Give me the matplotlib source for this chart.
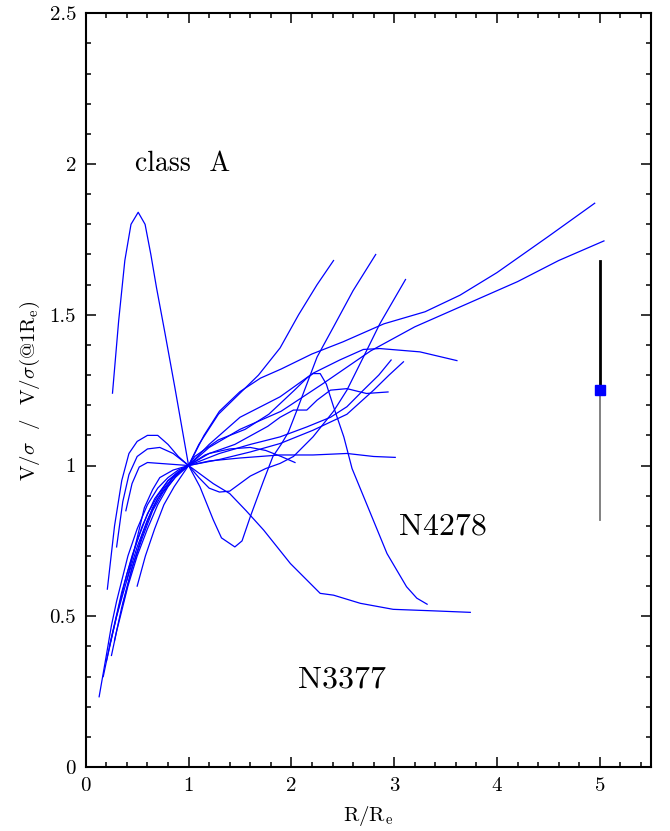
import numpy as np
import matplotlib
matplotlib.use("Agg")
import matplotlib.pyplot as plt
from matplotlib.ticker import MultipleLocator, FuncFormatter

# profiles V/sigma normalised at 1 Re
r_01 = np.array([0.26, 0.32, 0.38, 0.44, 0.51, 0.577, 0.633, 0.688, 0.77, 0.866, 1.0, 1.11, 1.24, 1.32, 1.45,
                 1.52, 1.6, 1.73, 1.82, 1.9, 1.97, 2.05, 2.15, 2.25, 2.41, 2.6, 2.82])
v_01 = np.array([1.24, 1.48, 1.68, 1.80, 1.84, 1.80, 1.70, 1.59, 1.44, 1.26, 1.0, 0.93, 0.82, 0.76, 0.73,
                 0.75, 0.83, 0.95, 1.03, 1.07, 1.11, 1.18, 1.27, 1.36, 1.46, 1.58, 1.70])

r_02 = np.array([0.21, 0.28, 0.35, 0.42, 0.5, 0.6, 0.7, 0.8, 0.9, 1.0, 1.15, 1.3, 1.5, 1.7, 1.9, 2.2, 2.5,
                 2.9, 3.3, 3.64, 4.0, 4.5, 4.95])
v_02 = np.array([0.59, 0.80, 0.95, 1.04, 1.08, 1.10, 1.10, 1.07, 1.03, 1.0, 1.10, 1.18, 1.245, 1.29, 1.32,
                 1.37, 1.41, 1.47, 1.51, 1.565, 1.64, 1.76, 1.87])

r_03 = np.array([0.30, 0.36, 0.42, 0.5, 0.6, 0.72, 0.85, 1.0, 1.2, 1.5, 1.9, 2.3, 2.77, 3.2, 3.64, 4.2, 4.6, 5.04])
v_03 = np.array([0.73, 0.88, 0.97, 1.03, 1.055, 1.06, 1.04, 1.0, 1.06, 1.12, 1.18, 1.27, 1.38, 1.46, 1.526,
                 1.61, 1.68, 1.745])

r_04 = np.array([0.39, 0.45, 0.52, 0.6, 0.8, 1.0, 1.2, 1.5, 1.89, 2.21, 2.54, 2.8, 3.01])
v_04 = np.array([0.85, 0.94, 0.995, 1.01, 1.005, 1.0, 1.015, 1.025, 1.035, 1.035, 1.04, 1.03, 1.027])

r_05 = np.array([0.13, 0.2, 0.25, 0.3, 0.41, 0.5, 0.6, 0.7, 0.8, 0.9, 1.0, 1.24, 1.40, 1.56, 1.73, 1.99,
                 2.28, 2.41, 2.67, 2.99, 3.38, 3.74])
v_05 = np.array([0.233, 0.37, 0.47, 0.55, 0.70, 0.79, 0.87, 0.925, 0.96, 0.985, 1.0, 0.94, 0.907, 0.85,
                 0.786, 0.675, 0.576, 0.57, 0.543, 0.523, 0.518, 0.513])

r_06 = np.array([0.25, 0.3, 0.41, 0.5, 0.6, 0.7, 0.8, 0.9, 1.0, 1.06, 1.29, 1.55, 1.78, 2.03, 2.15, 2.21,
                 2.28, 2.34, 2.41, 2.51, 2.59, 2.73, 2.93, 3.12, 3.22, 3.32])
v_06 = np.array([0.37, 0.45, 0.60, 0.70, 0.79, 0.87, 0.93, 0.975, 1.0, 1.03, 1.085, 1.12, 1.17, 1.25, 1.29,
                 1.305, 1.305, 1.27, 1.195, 1.095, 0.99, 0.874, 0.708, 0.598, 0.56, 0.54])

r_07 = np.array([0.17, 0.25, 0.35, 0.45, 0.55, 0.67, 0.8, 0.9, 1.0, 1.2, 1.5, 1.89, 2.21, 2.47, 2.70, 2.86,
                 3.25, 3.61])
v_07 = np.array([0.30, 0.43, 0.58, 0.70, 0.80, 0.89, 0.95, 0.98, 1.0, 1.07, 1.16, 1.228, 1.306, 1.35, 1.385,
                 1.388, 1.377, 1.348])

r_08 = np.array([0.20, 0.3, 0.4, 0.5, 0.6, 0.7, 0.85, 1.0, 1.1, 1.29, 1.5, 1.68, 1.89, 2.07, 2.25, 2.41])
v_08 = np.array([0.35, 0.50, 0.62, 0.73, 0.82, 0.89, 0.96, 1.0, 1.07, 1.17, 1.24, 1.30, 1.39, 1.50, 1.60, 1.68])

r_09 = np.array([0.36, 0.45, 0.55, 0.65, 0.75, 0.87, 1.0, 1.16, 1.45, 1.77, 1.89, 2.02, 2.15, 2.25, 2.38,
                 2.54, 2.73, 2.94])
v_09 = np.array([0.54, 0.66, 0.76, 0.85, 0.91, 0.96, 1.0, 1.035, 1.07, 1.13, 1.16, 1.184, 1.184, 1.217, 1.25,
                 1.255, 1.239, 1.244])

r_10 = np.array([0.50, 0.58, 0.67, 0.76, 0.86, 1.0, 1.3, 1.6, 1.89, 2.15, 2.38, 2.54, 2.70, 2.85, 2.97])
v_10 = np.array([0.60, 0.70, 0.79, 0.87, 0.93, 1.0, 1.04, 1.07, 1.095, 1.128, 1.16, 1.195, 1.25, 1.30, 1.35])

r_11 = np.array([0.23, 0.3, 0.4, 0.5, 0.6, 0.7, 0.8, 1.0, 1.3, 1.6, 1.89, 2.21, 2.54, 2.80, 2.95, 3.09])
v_11 = np.array([0.40, 0.50, 0.64, 0.75, 0.84, 0.90, 0.95, 1.0, 1.02, 1.045, 1.073, 1.117, 1.17, 1.25, 1.30,
                 1.344])

r_12 = np.array([0.40, 0.5, 0.57, 0.65, 0.72, 0.85, 1.0, 1.2, 1.4, 1.6, 1.75, 1.9, 2.035])
v_12 = np.array([0.62, 0.76, 0.86, 0.92, 0.96, 0.985, 1.0, 1.04, 1.055, 1.06, 1.05, 1.03, 1.01])

r_13 = np.array([0.28, 0.35, 0.45, 0.55, 0.65, 0.75, 0.87, 1.0, 1.1, 1.2, 1.3, 1.4, 1.5, 1.6, 1.75, 1.89,
                 2.02, 2.21, 2.41, 2.54, 2.73, 2.86, 3.11])
v_13 = np.array([0.42, 0.53, 0.66, 0.77, 0.86, 0.92, 0.97, 1.0, 0.96, 0.925, 0.912, 0.915, 0.94, 0.965, 0.99,
                 1.007, 1.03, 1.095, 1.18, 1.25, 1.38, 1.47, 1.617])

perfiles = [(r_01, v_01), (r_02, v_02), (r_03, v_03), (r_04, v_04), (r_05, v_05), (r_06, v_06),
            (r_07, v_07), (r_08, v_08), (r_09, v_09), (r_10, v_10), (r_11, v_11), (r_12, v_12),
            (r_13, v_13)]

# typical error bar
err_r = 5.0
err_v = 1.25
err_alto = 1.68
err_bajo = 0.82

plt.rcParams["font.family"] = "cmr10"
plt.rcParams["mathtext.fontset"] = "cm"
plt.rcParams["axes.formatter.use_mathtext"] = True

fig = plt.figure(figsize=(6.7, 8.31), dpi=100)
ax = fig.add_axes([0.128, 0.077, 0.844, 0.907])

for r, v in perfiles:
    ax.plot(r, v, color="#0000ff", lw=0.9)

ax.plot([err_r, err_r], [err_v, err_alto], color="black", lw=2.0, zorder=3)
ax.plot([err_r, err_r], [err_bajo, err_v], color="#777777", lw=1.3, zorder=3)
ax.plot([err_r], [err_v], marker="s", ms=7.5, color="#0000ff", mec="#0000ff", zorder=4)

ax.text(0.48, 2.0, "class  A", fontsize=20, ha="left", va="center")
ax.text(3.05, 0.797, "N4278", fontsize=23, ha="left", va="center")
ax.text(2.06, 0.29, "N3377", fontsize=23, ha="left", va="center")

ax.set_xlim(0, 5.5)
ax.set_ylim(0, 2.5)
ax.xaxis.set_major_locator(MultipleLocator(1))
ax.xaxis.set_minor_locator(MultipleLocator(0.2))
ax.yaxis.set_major_locator(MultipleLocator(0.5))
ax.yaxis.set_minor_locator(MultipleLocator(0.1))
fmt = FuncFormatter(lambda val, pos: "%g" % val)
ax.xaxis.set_major_formatter(fmt)
ax.yaxis.set_major_formatter(fmt)
ax.tick_params(which="both", direction="in", top=True, right=True, labelsize=15, width=1.1)
ax.tick_params(which="major", length=7.5, pad=7)
ax.tick_params(which="minor", length=3.6)
for sp in ax.spines.values():
    sp.set_linewidth(1.5)

ax.set_xlabel(r"R/R$_{\rm e}$", fontsize=15, labelpad=7)
ax.set_ylabel(r"V/$\sigma$  /  V/$\sigma$(@1R$_{\rm e}$)", fontsize=15, labelpad=5)

fig.savefig("out.png", dpi=100)
